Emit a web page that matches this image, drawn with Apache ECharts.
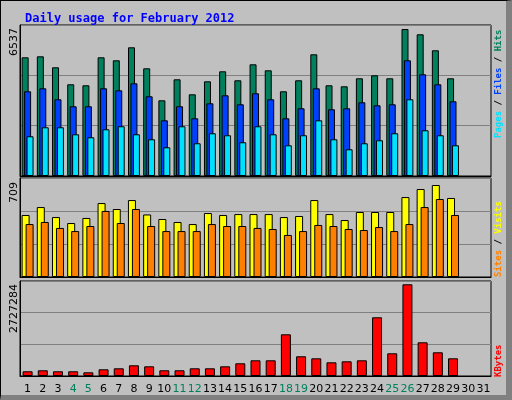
<!DOCTYPE html>
<html><head><meta charset="utf-8">
<script src="https://cdn.jsdelivr.net/npm/echarts@6/dist/echarts.min.js"></script>
<style>
html,body{margin:0;padding:0;background:#C0C0C0;}
#c{width:512px;height:400px;box-sizing:border-box;border-left:1px solid #000;border-top:1px solid #000;border-right:6px solid #808080;border-bottom:5px solid #808080;}
</style></head><body>
<div id="c"></div>
<script>
const days = Array.from({length:31},(_,i)=>String(i+1));
const weekend = ['4','5','11','12','18','19','25','26'];
const hits = [5278,5323,4834,4078,4034,5278,5145,5723,4789,3366,4300,3633,4211,4656,4256,4967,4700,3767,4256,5412,4034,3989,4345,4478,4345,6537,6301,5590,4345];
const files = [3767,3900,3411,3100,3100,3900,3811,4122,3544,2477,3100,2566,3233,3589,3189,3678,3411,2566,3011,3900,2967,3011,3278,3144,3189,5145,4523,4078,3322];
const pages = [1767,2166,2166,1855,1722,2077,2211,1855,1633,1277,2211,1455,1900,1811,1500,2211,1855,1366,1811,2477,1633,1188,1455,1589,1900,3411,2033,1811,1366];
const visits = [478,539,462,416,455,570,524,593,482,447,424,408,493,478,485,485,485,462,470,593,485,439,501,501,501,616,678,709,609];
const sites = [408,424,378,354,393,509,416,524,393,354,354,354,408,393,393,378,370,324,354,401,393,370,362,385,354,408,539,601,478];
const kbytes = [140000,170000,140000,140000,110000,199000,229000,318000,288000,170000,170000,229000,229000,288000,378000,467000,467000,1240000,586000,526000,407000,437000,467000,1746000,675000,2727284,1002000,705000,526000];
const maxHits = 6537, maxVisits = 709, maxK = 2727284;

const ch = echarts.init(document.getElementById('c'));
const mono = 'DejaVu Sans Mono';
const rf = 'bold 9px '+mono;
const grids = [
  {left:19,right:15,top:24,height:151},
  {left:19,right:15,top:177,height:99},
  {left:19,right:15,top:280,height:95}
];
const tops = [maxHits*151/147, maxVisits*99/92, maxK*95/91.7];
const bs = {borderColor:'#000',borderWidth:1};
function xa(i){return {type:'category',gridIndex:i,data:days,axisTick:{show:false},
  axisLine:{show:true,lineStyle:{color:'#000'}},
  axisLabel:{show:i===2,interval:0,fontFamily:'DejaVu Sans',fontSize:11,margin:8,
    color:(v)=>weekend.includes(v)?'#00805C':'#000'}};}
function ya(i){return {type:'value',gridIndex:i,min:0,max:tops[i],interval:tops[i]/3,
  axisLabel:{show:false},axisLine:{show:true,lineStyle:{color:'#000'}},axisTick:{show:false},
  splitLine:{lineStyle:{color:'#808080',width:1}}};}
function lbl(txt,y){return {type:'text',x:13,y:y,rotation:Math.PI/2,
  style:{text:txt,fill:'#000',font:'11px DejaVu Sans',textAlign:'right',textVerticalAlign:'middle'}};}
ch.setOption({
  animation:false,
  title:{text:'Daily usage for February 2012',left:19,top:7,textStyle:{color:'#0000FF',fontFamily:mono,fontWeight:'bold',fontSize:12}},
  grid:grids.map(g=>Object.assign({show:true,borderColor:'#000',borderWidth:1,backgroundColor:'#C0C0C0'},g)),
  xAxis:[xa(0),xa(1),xa(2)],
  yAxis:[ya(0),ya(1),ya(2)],
  series:[
    {type:'bar',xAxisIndex:0,yAxisIndex:0,data:hits,barWidth:7,barGap:'-65%',itemStyle:Object.assign({color:'#00805C'},bs)},
    {type:'bar',xAxisIndex:0,yAxisIndex:0,data:files,barWidth:7,barGap:'-65%',itemStyle:Object.assign({color:'#0040FF'},bs)},
    {type:'bar',xAxisIndex:0,yAxisIndex:0,data:pages,barWidth:7,barGap:'-65%',itemStyle:Object.assign({color:'#00E0FF'},bs)},
    {type:'bar',xAxisIndex:1,yAxisIndex:1,data:visits,barWidth:8,barGap:'-50%',itemStyle:Object.assign({color:'#FFFF00'},bs)},
    {type:'bar',xAxisIndex:1,yAxisIndex:1,data:sites,barWidth:8,barGap:'-50%',itemStyle:Object.assign({color:'#FF8000'},bs)},
    {type:'bar',xAxisIndex:2,yAxisIndex:2,data:kbytes,barWidth:10,itemStyle:Object.assign({color:'#FF0000'},bs)}
  ],
  graphic:[
    lbl(String(maxHits),27), lbl(String(maxVisits),181), lbl(String(maxK),283),
    {type:'text',x:498,y:137,rotation:Math.PI/2,style:{text:'{p|Pages}{s| / }{f|Files}{s| / }{h|Hits}',
      rich:{p:{fill:'#00E0FF',font:rf},s:{fill:'#000',font:rf},f:{fill:'#0040FF',font:rf},h:{fill:'#00805C',font:rf}},
      textAlign:'left',textVerticalAlign:'middle'}},
    {type:'text',x:498,y:276,rotation:Math.PI/2,style:{text:'{a|Sites}{s| / }{b|Visits}',
      rich:{a:{fill:'#FF8000',font:rf},s:{fill:'#000',font:rf},b:{fill:'#FFFF00',font:rf}},
      textAlign:'left',textVerticalAlign:'middle'}},
    {type:'text',x:498,y:376,rotation:Math.PI/2,style:{text:'KBytes',fill:'#FF0000',font:rf,textAlign:'left',textVerticalAlign:'middle'}}
  ]
});
</script></body></html>
